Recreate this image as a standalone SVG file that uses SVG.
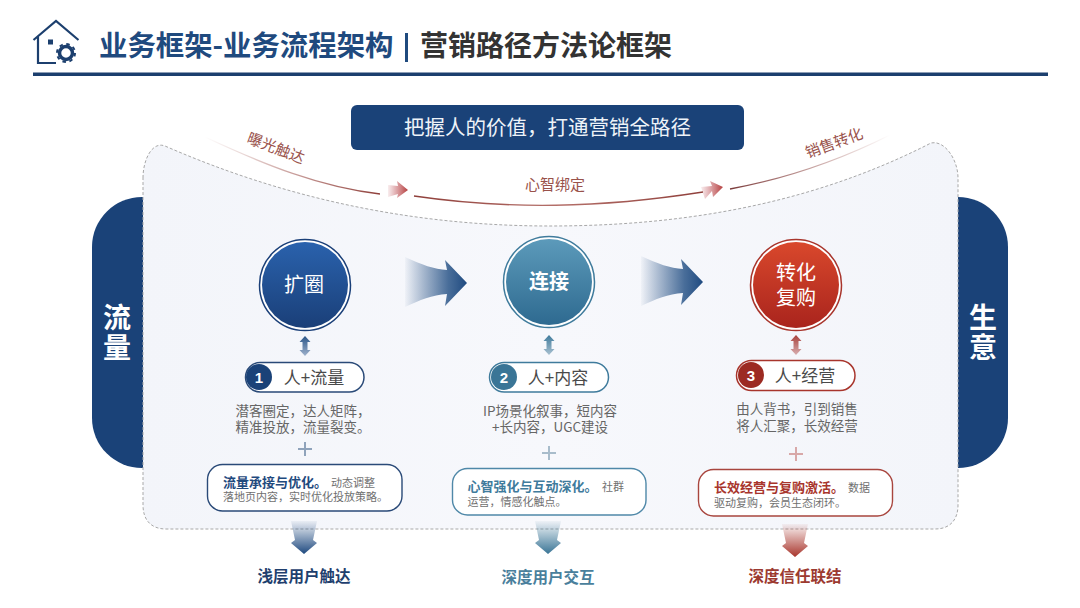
<svg xmlns="http://www.w3.org/2000/svg" width="1080" height="608" viewBox="0 0 1080 608">
<style>
text{font-family:"Noto Sans CJK SC","Liberation Sans",sans-serif;text-anchor:middle}
.st{text-anchor:start}
.b{font-weight:700}
.num{font-family:"Liberation Sans","Noto Sans CJK SC",sans-serif;font-weight:700;font-size:15px;fill:#fff}
.pill{fill:#fff;stroke-width:1.5}
.ptx{font-size:17px;fill:#4a4a4a}
.desc{font-size:13.5px;fill:#666}
.box{fill:#fff;stroke-width:1.4}
.bt{font-size:13px;font-weight:700;text-anchor:start}
.small{font-size:11px;font-weight:400;fill:#707070;text-anchor:start}
.red{font-size:15px;fill:#99524b}
.side{font-size:28px;font-weight:700;fill:#fff}
.foot{font-size:15.5px;font-weight:700}
.plus{fill:none;stroke-width:2}
</style>
<defs>
<linearGradient id="panel" x1="0" y1="0" x2="1" y2="0"><stop offset="0" stop-color="#f3f5fa"/><stop offset="0.5" stop-color="#f7f8fc"/><stop offset="1" stop-color="#f3f5fa"/></linearGradient>
<linearGradient id="c1" x1="0" y1="0" x2="0" y2="1"><stop offset="0" stop-color="#2a62ad"/><stop offset="1" stop-color="#1a3f78"/></linearGradient>
<linearGradient id="c2" x1="0" y1="0" x2="0" y2="1"><stop offset="0" stop-color="#5c9aba"/><stop offset="1" stop-color="#2e6a90"/></linearGradient>
<linearGradient id="c3" x1="0" y1="0" x2="0" y2="1"><stop offset="0" stop-color="#d9482c"/><stop offset="1" stop-color="#a9241d"/></linearGradient>
<linearGradient id="big" x1="0" y1="0" x2="1" y2="0"><stop offset="0" stop-color="#1f4a80" stop-opacity="0.03"/><stop offset="0.7" stop-color="#2a5588" stop-opacity="0.85"/><stop offset="1" stop-color="#1f4a80"/></linearGradient>
<linearGradient id="dB" x1="0" y1="0" x2="0" y2="1"><stop offset="0" stop-color="#1f4a80" stop-opacity="0.05"/><stop offset="1" stop-color="#1f4a80"/></linearGradient>
<linearGradient id="dT" x1="0" y1="0" x2="0" y2="1"><stop offset="0" stop-color="#3a7596" stop-opacity="0.05"/><stop offset="1" stop-color="#3a7596"/></linearGradient>
<linearGradient id="dR" x1="0" y1="0" x2="0" y2="1"><stop offset="0" stop-color="#a8352c" stop-opacity="0.05"/><stop offset="1" stop-color="#a8352c"/></linearGradient>
<linearGradient id="uB" x1="0" y1="0" x2="0" y2="1"><stop offset="0" stop-color="#2a5588"/><stop offset="1" stop-color="#9fb2cc"/></linearGradient>
<linearGradient id="uT" x1="0" y1="0" x2="0" y2="1"><stop offset="0" stop-color="#3f7b9c"/><stop offset="1" stop-color="#a8c0d0"/></linearGradient>
<linearGradient id="uR" x1="0" y1="0" x2="0" y2="1"><stop offset="0" stop-color="#a8403a"/><stop offset="1" stop-color="#d8aeb0"/></linearGradient>
<linearGradient id="ra" x1="0" y1="0" x2="1" y2="0"><stop offset="0" stop-color="#c0505a" stop-opacity="0.1"/><stop offset="1" stop-color="#b5403f"/></linearGradient>
<linearGradient id="l1" gradientUnits="userSpaceOnUse" x1="205" y1="137" x2="380" y2="194"><stop offset="0" stop-color="#a0504a" stop-opacity="0"/><stop offset="1" stop-color="#8f3f3a"/></linearGradient>
<linearGradient id="l2" gradientUnits="userSpaceOnUse" x1="414" y1="196" x2="703" y2="192"><stop offset="0" stop-color="#8f3f3a"/><stop offset="0.5" stop-color="#b5706a"/><stop offset="1" stop-color="#8f3f3a"/></linearGradient>
<linearGradient id="l3" gradientUnits="userSpaceOnUse" x1="730" y1="189" x2="890" y2="135"><stop offset="0" stop-color="#7a3a3a"/><stop offset="1" stop-color="#a0504a" stop-opacity="0"/></linearGradient>
<path id="bigA" d="M405,257C422,265 434,269 447,270L445,260L467,283L445,306L447,294C432,295 420,300 405,307Z" fill="url(#big)"/>
<path id="dbl" d="M0,-10L5.500,-4H2.500V4H5.500L0,10L-5.500,4H-2.500V-4H-5.500Z"/>
<path id="down" d="M-13,-33H13L9,-14L13,-11L0,0L-13,-11L-9,-14Z"/>
</defs>
<rect width="1080" height="608" fill="#fff"/>
<g id="header">
<g id="icon" fill="none" stroke="#1c3f6e" stroke-width="2.200">
<path d="M33.500,40L56,21L78.500,40M38,36V63H56"/>
<rect x="48" y="39.500" width="5" height="5" fill="#1c3f6e" stroke="none"/>
<circle cx="66" cy="53" r="6.500" stroke-width="3.500"/>
<circle cx="66" cy="53" r="9" stroke-width="2" stroke-dasharray="3.500 3.570"/>
</g>
<text class="st b" x="99" y="56" font-size="28.400" fill="#1f4a7e">业务框架-业务流程架构</text>
<rect x="405" y="33" width="3" height="29" fill="#1f4a7e"/>
<text class="st b" x="420" y="56" font-size="28" fill="#333">营销路径方法论框架</text>
<rect x="33" y="72.500" width="1015" height="3.500" fill="#1c3f6e"/>
</g>
<g id="side-left"><path d="M143,197H142A50,50 0 0 0 92,247V418A50,50 0 0 0 142,468H143Z" fill="#1a4278"/><text class="side"><tspan x="117" y="328">流</tspan><tspan x="117" y="358">量</tspan></text></g>
<g id="side-right"><path d="M958,197A50,50 0 0 1 1008,247V418A50,50 0 0 1 958,468Z" fill="#1a4278"/><text class="side"><tspan x="983" y="328">生</tspan><tspan x="983" y="358">意</tspan></text></g>
<g id="panel-bg"><path d="M143,178C143,160 152,141 165,146C300,205 430,226 550,226C680,226 810,205 931,143C945,140 958,160 958,178V505C958,520 950,529 935,529H166C151,529 143,520 143,505Z" fill="url(#panel)" stroke="#a8a8a8" stroke-width="1" stroke-dasharray="3 2"/></g>
<g id="banner"><rect x="351" y="105" width="393" height="45" rx="6" fill="#1a4278"/><text x="547.500" y="135" font-size="20.500" fill="#eef3f8">把握人的价值，打通营销全路径</text></g>
<g id="connectors">
<path d="M205,137C265,165 320,187 380,194" fill="none" stroke="url(#l1)" stroke-width="1.300"/>
<path d="M414,196C510,210 600,208 703,192" fill="none" stroke="url(#l2)" stroke-width="1.300"/>
<path d="M730,189C790,178 840,160 890,135" fill="none" stroke="url(#l3)" stroke-width="1.300"/>
<path d="M388,185L398,186L397,181L408,190L397,198L398,194L388,197Z" fill="url(#ra)"/>
<path d="M701,187L712,186L710,181L723,187L713,197L712,191L705,199Z" fill="url(#ra)"/>
<use href="#bigA"/>
<use href="#bigA" x="236" y="-1"/>
<use href="#dbl" x="305" y="346" fill="url(#uB)"/>
<use href="#dbl" x="549" y="345" fill="url(#uT)"/>
<use href="#dbl" x="796" y="345" fill="url(#uR)"/>
<use href="#down" x="304" y="554" fill="url(#dB)"/>
<use href="#down" x="548" y="554" fill="url(#dT)"/>
<use href="#down" x="795" y="557" fill="url(#dR)"/>
</g>
<g id="labels-path">
<text class="red" transform="translate(274,153) rotate(21)">曝光触达</text>
<text class="red" x="555" y="190">心智绑定</text>
<text class="red" transform="translate(836,148) rotate(-20)">销售转化</text>
</g>
<g id="node-kuoquan">
<circle cx="305" cy="285" r="45.500" fill="#fff" stroke="#1a3f78" stroke-width="1.500"/><circle cx="305" cy="285" r="43" fill="url(#c1)"/>
<text x="304" y="292" font-size="20" fill="#fff">扩圈</text>
<rect class="pill" x="245.500" y="362.500" width="118.500" height="29.500" rx="14.750" stroke="#2a4a78"/>
<circle cx="259" cy="377" r="13" fill="#1a4278"/><text class="num" x="259" y="382.500">1</text>
<text class="ptx" x="314" y="383.500">人+流量</text>
<text class="desc"><tspan x="303" y="416">潜客圈定，达人矩阵，</tspan><tspan x="303" y="432">精准投放，流量裂变。</tspan></text>
<path class="plus" d="M298,449H312M305,442V456" stroke="#8fa3bb"/>
<rect class="box" x="207.500" y="464.500" width="194.500" height="46.500" rx="15" stroke="#2a4a78"/>
<text class="bt" x="223" y="486.500" fill="#1f4a7e">流量承接与优化。<tspan class="small" x="331">动态调整</tspan></text>
<text class="small"><tspan x="223" y="501">落地页内容，实时优化投放策略。</tspan></text>
<text class="foot" x="304" y="581.500" fill="#1f3f6e">浅层用户触达</text>
</g>
<g id="node-lianjie">
<circle cx="549" cy="282" r="45.500" fill="#fff" stroke="#3f7b9c" stroke-width="1.500"/><circle cx="549" cy="282" r="43" fill="url(#c2)"/>
<text class="b" x="549" y="289" font-size="20" fill="#fff">连接</text>
<rect class="pill" x="489.500" y="362.500" width="119" height="29.500" rx="14.750" stroke="#3f7b9c"/>
<circle cx="504" cy="377" r="13" fill="#3a7596"/><text class="num" x="504" y="382.500">2</text>
<text class="ptx" x="558" y="383.500">人+内容</text>
<text class="desc"><tspan x="550" y="415.500">IP场景化叙事，短内容</tspan><tspan x="550" y="432">+长内容，UGC建设</tspan></text>
<path class="plus" d="M542,453H556M549,446V460" stroke="#a8bccb"/>
<rect class="box" x="452.500" y="468.500" width="193.500" height="46.500" rx="15" stroke="#4f88a8"/>
<text class="bt" x="467.500" y="490.500" fill="#3f7b9c">心智强化与互动深化。<tspan class="small" x="602">社群</tspan></text>
<text class="small" x="467.500" y="506">运营，情感化触点。</text>
<text class="foot" x="548" y="582.500" fill="#4a7f9c">深度用户交互</text>
</g>
<g id="node-zhuanhua">
<circle cx="796" cy="285" r="45.500" fill="#fff" stroke="#a8352c" stroke-width="1.500"/><circle cx="796" cy="285" r="43" fill="url(#c3)"/>
<text font-size="20" fill="#fff"><tspan x="796" y="280">转化</tspan><tspan x="796" y="305">复购</tspan></text>
<rect class="pill" x="736.500" y="360.500" width="118.500" height="30" rx="15" stroke="#a8352c"/>
<circle cx="751" cy="375" r="13" fill="#9c2a22"/><text class="num" x="751" y="380.500">3</text>
<text class="ptx" x="805" y="381.500">人+经营</text>
<text class="desc"><tspan x="797" y="414">由人背书，引到销售</tspan><tspan x="797" y="431">将人汇聚，长效经营</tspan></text>
<path class="plus" d="M789,454H803M796,447V461" stroke="#d8a8a8"/>
<rect class="box" x="698.500" y="469.500" width="194" height="46.500" rx="15" stroke="#a8453e"/>
<text class="bt" x="714" y="492" fill="#a8352c">长效经营与复购激活。<tspan class="small" x="848">数据</tspan></text>
<text class="small" x="714" y="507">驱动复购，会员生态闭环。</text>
<text class="foot" x="795" y="581.500" fill="#9c3a30">深度信任联结</text>
</g>
</svg>
